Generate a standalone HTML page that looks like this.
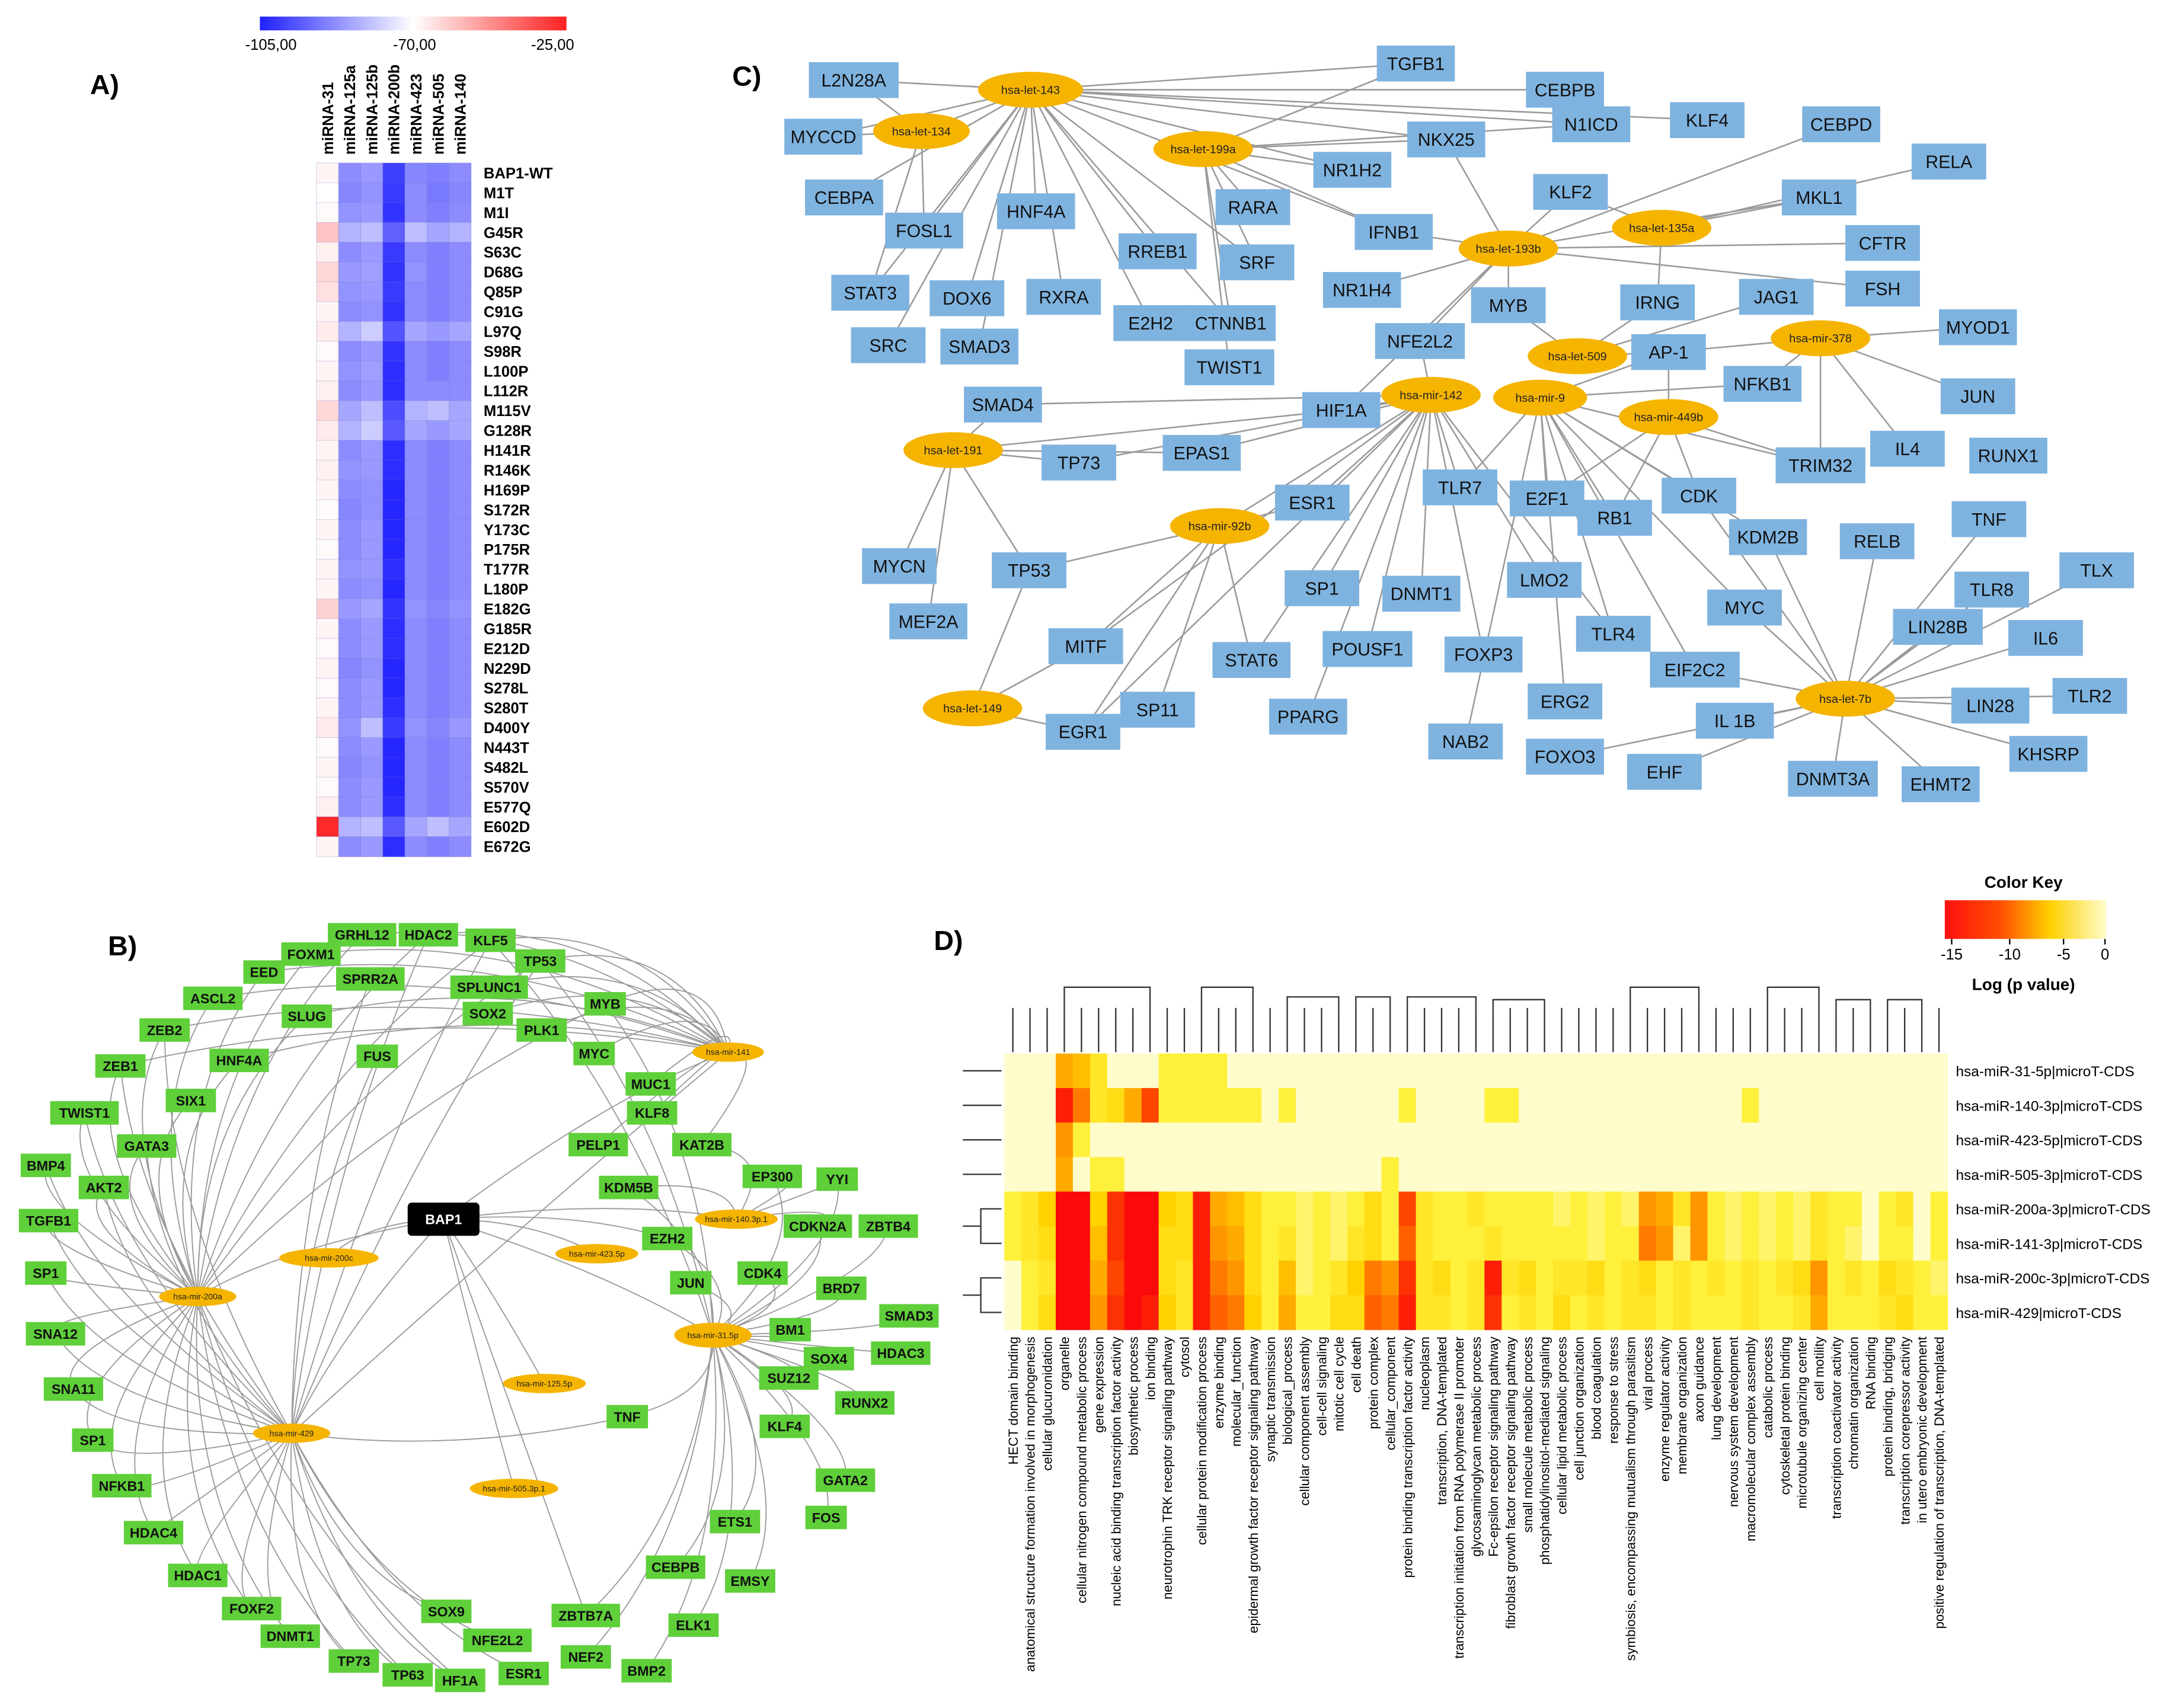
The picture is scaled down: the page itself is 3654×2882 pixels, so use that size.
<!DOCTYPE html>
<html><head><meta charset="utf-8">
<style>
html,body{margin:0;padding:0;background:#fff;}
svg{display:block;font-family:"Liberation Sans",Arial,sans-serif;}
</style></head>
<body>
<svg id="fig" width="3654" height="2882" viewBox="0 0 1568 1237" xmlns="http://www.w3.org/2000/svg">
<defs>
<linearGradient id="gA" x1="0" x2="1" y1="0" y2="0">
<stop offset="0" stop-color="#2020ff"/><stop offset="0.5" stop-color="#ffffff"/><stop offset="1" stop-color="#ff2020"/>
</linearGradient>
<linearGradient id="gD" x1="0" x2="1" y1="0" y2="0">
<stop offset="0" stop-color="#ff1010"/><stop offset="0.35" stop-color="#ff5000"/><stop offset="0.65" stop-color="#ffd000"/><stop offset="1" stop-color="#fffccc"/>
</linearGradient>
</defs>
<g id="pA"></g>
<g id="pB"></g>
<g id="pC"></g>
<g id="pD"></g>
</svg>
<script>
// ---------- Panel A data ----------
const aCols = ["miRNA-31","miRNA-125a","miRNA-125b","miRNA-200b","miRNA-423","miRNA-505","miRNA-140"];
const aRows = ["BAP1-WT","M1T","M1I","G45R","S63C","D68G","Q85P","C91G","L97Q","S98R","L100P","L112R","M115V","G128R","H141R","R146K","H169P","S172R","Y173C","P175R","T177R","L180P","E182G","G185R","E212D","N229D","S278L","S280T","D400Y","N443T","S482L","S570V","E577Q","E602D","E672G"];
const aCol0 = [-68,-70,-69,-58,-67,-62,-64,-68,-66,-69,-68,-67,-62,-66,-68,-67,-68,-69,-68,-69,-68,-68,-61,-68,-69,-68,-69,-68,-66,-69,-68,-69,-67,-27,-68];
const aCol1 = [-88,-89,-87,-82,-88,-86,-87,-88,-82,-88,-87,-88,-84,-82,-88,-87,-88,-89,-88,-88,-87,-88,-86,-88,-88,-89,-88,-88,-87,-88,-89,-88,-88,-82,-88];
const aCol2 = [-86,-87,-86,-80,-86,-85,-86,-87,-78,-86,-85,-86,-80,-78,-86,-86,-87,-87,-86,-86,-86,-87,-84,-86,-86,-87,-86,-86,-80,-86,-87,-86,-86,-80,-86];
const aCol3 = [-100,-101,-102,-95,-101,-102,-101,-102,-97,-102,-103,-103,-98,-96,-103,-103,-104,-104,-104,-104,-103,-104,-102,-103,-103,-104,-104,-103,-101,-104,-104,-104,-103,-96,-103];
const aCol4 = [-89,-88,-88,-80,-88,-87,-88,-88,-84,-88,-88,-88,-82,-84,-88,-88,-88,-88,-88,-88,-88,-88,-87,-88,-88,-88,-88,-88,-87,-88,-88,-88,-88,-84,-88];
const aCol5 = [-90,-91,-90,-84,-90,-90,-90,-90,-86,-90,-90,-88,-80,-86,-90,-90,-90,-90,-90,-90,-90,-90,-89,-90,-90,-90,-90,-90,-89,-90,-90,-90,-90,-80,-90];
const aCol6 = [-88,-89,-88,-82,-88,-88,-88,-88,-84,-88,-88,-88,-84,-84,-88,-88,-88,-88,-88,-88,-88,-88,-87,-88,-88,-88,-88,-88,-86,-88,-88,-88,-88,-84,-88];
const aTicks = ["-105,00","-70,00","-25,00"];

// ---------- Panel D data ----------
const dRows = ["hsa-miR-31-5p|microT-CDS","hsa-miR-140-3p|microT-CDS","hsa-miR-423-5p|microT-CDS","hsa-miR-505-3p|microT-CDS","hsa-miR-200a-3p|microT-CDS","hsa-miR-141-3p|microT-CDS","hsa-miR-200c-3p|microT-CDS","hsa-miR-429|microT-CDS"];
const dCols = ["HECT domain binding","anatomical structure formation involved in morphogenesis","cellular glucuronidation","organelle","cellular nitrogen compound metabolic process","gene expression","nucleic acid binding transcription factor activity","biosynthetic process","ion binding","neurotrophin TRK receptor signaling pathway","cytosol","cellular protein modification process","enzyme binding","molecular_function","epidermal growth factor receptor signaling pathway","synaptic transmission","biological_process","cellular component assembly","cell-cell signaling","mitotic cell cycle","cell death","protein complex","cellular_component","protein binding transcription factor activity","nucleoplasm","transcription, DNA-templated","transcription initiation from RNA polymerase II promoter","glycosaminoglycan metabolic process","Fc-epsilon receptor signaling pathway","fibroblast growth factor receptor signaling pathway","small molecule metabolic process","phosphatidylinositol-mediated signaling","cellular lipid metabolic process","cell junction organization","blood coagulation","response to stress","symbiosis, encompassing mutualism through parasitism","viral process","enzyme regulator activity","membrane organization","axon guidance","lung development","nervous system development","macromolecular complex assembly","catabolic process","cytoskeletal protein binding","microtubule organizing center","cell motility","transcription coactivator activity","chromatin organization","RNA binding","protein binding, bridging","transcription corepressor activity","in utero embryonic development","positive regulation of transcription, DNA-templated"];
const dR0 = [0,0,0,-8,-7,-4,0,0,0,-3,-3,-3,-3,0,0,0,0,0,0,0,0,0,0,0,0,0,0,0,0,0,0,0,0,0,0,0,0,0,0,0,0,0,0,0,0,0,0,0,0,0,0,0,0,0,0];
const dR1 = [0,0,0,-14,-10,-4,-5,-8,-12,-3,-3,-3,-3,-3,-3,0,-3,0,0,0,0,0,0,-3,0,0,0,0,-3,-3,0,0,0,0,0,0,0,0,0,0,0,0,0,-3,0,0,0,0,0,0,0,0,0,0,0];
const dR2 = [0,0,0,-9,-3,0,0,0,0,0,0,0,0,0,0,0,0,0,0,0,0,0,0,0,0,0,0,0,0,0,0,0,0,0,0,0,0,0,0,0,0,0,0,0,0,0,0,0,0,0,0,0,0,0,0];
const dR3 = [0,0,0,-8,0,-3,-3,0,0,0,0,0,0,0,0,0,0,0,0,0,0,0,-3,0,0,0,0,0,0,0,0,0,0,0,0,0,0,0,0,0,0,0,0,0,0,0,0,0,0,0,0,0,0,0,0];
const dR4 = [-3,-4,-6,-15,-15,-6,-13,-15,-15,-6,-5,-14,-8,-7,-5,-3,-3,-2,-3,-2,-3,-5,-3,-12,-4,-3,-3,-4,-3,-3,-3,-3,-2,-3,-2,-3,-2,-9,-8,-4,-9,-3,-2,-3,-2,-3,-2,-4,-3,-3,0,-3,-4,0,-3];
const dR5 = [-3,-4,-5,-15,-15,-7,-13,-15,-15,-5,-5,-14,-9,-8,-5,-3,-4,-2,-3,-2,-4,-5,-3,-11,-4,-3,-3,-3,-4,-3,-3,-3,-3,-3,-2,-3,-3,-10,-9,-2,-9,-3,-2,-3,-2,-3,-2,-4,-3,-2,0,-3,-3,0,-3];
const dR6 = [0,-3,-4,-15,-15,-8,-12,-15,-15,-5,-4,-14,-10,-9,-5,-3,-7,-2,-3,-4,-6,-10,-9,-13,-4,-5,-3,-4,-14,-4,-5,-3,-4,-4,-5,-3,-4,-5,-3,-4,-3,-4,-3,-4,-3,-4,-5,-9,-3,-4,-3,-5,-4,-3,-2];
const dR7 = [0,-3,-5,-15,-15,-9,-13,-15,-14,-6,-4,-14,-11,-10,-6,-3,-8,-3,-3,-5,-5,-11,-10,-14,-4,-4,-3,-4,-13,-3,-4,-3,-5,-3,-4,-3,-4,-4,-3,-4,-3,-3,-3,-4,-3,-3,-4,-8,-3,-3,-3,-4,-5,-3,-3];
const dKeyTicks = ["-15","-10","-5","0"];

const NS="http://www.w3.org/2000/svg";
function mk(tag, parent, attrs){const e=document.createElementNS(NS,tag);for(const k in attrs)e.setAttribute(k,attrs[k]);parent.appendChild(e);return e;}
function txt(parent,x,y,s,size,opts){const t=mk('text',parent,Object.assign({x:x,y:y,'font-size':size},opts||{}));t.textContent=s;return t;}

// ---------- Panel A ----------
(function(){
const g=document.getElementById('pA');
const lab=txt(g,65,68,"A)",20,{'font-weight':'bold'});


const cb=mk('rect',g,{x:188,y:12,width:222,height:10,fill:'url(#gA)'});


const tx=[196,300,400];
aTicks.forEach((s,i)=>{const t=txt(g,tx[i],36,s,11,{'text-anchor':'middle'});

});
const cols=[aCol0,aCol1,aCol2,aCol3,aCol4,aCol5,aCol6];
const x0=229,cw=16,y0=118,rh=14.35;
function col(v){const t=Math.max(-105,Math.min(-25,v));
 if(t<=-70){const f=(t+105)/35;const c=Math.round(32+223*f);return `rgb(${c},${c},255)`;}
 const f=(t+70)/45;const c=Math.round(255-223*f);return `rgb(255,${c},${c})`;}
cols.forEach((arr,ci)=>{
 const h=txt(g,x0+ci*cw+cw/2+4,112,aCols[ci],11,{'font-weight':'bold',transform:`rotate(-90 ${x0+ci*cw+cw/2+4} 112)`});
 
 
 arr.forEach((v,ri)=>{const r=mk('rect',g,{x:x0+ci*cw,y:y0+ri*rh,width:cw,height:rh+0.3,fill:col(v),stroke:'rgba(120,120,200,0.35)','stroke-width':0.4});
 
 });
});
aRows.forEach((s,ri)=>{const t=txt(g,350,y0+ri*rh+rh/2+4,s,11,{'font-weight':'bold'});
 
 });
})();

// ---------- Network helper ----------
function network(g,nodes,hubs,edges,style){
 const pos={};
 nodes.forEach(n=>pos[n[0]]=[n[1],n[2]]);
 hubs.forEach(n=>pos[n[0]]=[n[1],n[2]]);
 const eg=mk('g',g,{});
 
 
 edges.forEach(([a,list])=>{list.forEach(b=>{if(!pos[a]||!pos[b])return;
  const [x1,y1]=pos[a],[x2,y2]=pos[b];
  let d;
  if(style.curve){const mx=(x1+x2)/2,my=(y1+y2)/2;const dx=mx-style.cx,dy=my-style.cy;
   d=`M${x1},${y1} Q${mx+dx*0.25},${my+dy*0.25} ${x2},${y2}`;}
  else d=`M${x1},${y1} L${x2},${y2}`;
  const p=mk('path',eg,{d:d,fill:'none',stroke:'#9a9a9a','stroke-width':style.sw});
  
  });});
 nodes.forEach(n=>{const [id,x,y,lbl]=n;const s=lbl||id.replace(/_\d$/,'');
  const w=Math.max(style.minw,s.length*style.cw+style.pad);
  const r=mk('rect',g,{x:x-w/2,y:y-style.h/2,width:w,height:style.h,fill:style.fill});
  
  
  const t=txt(g,x,y+style.fs*0.36,s,style.fs,{'text-anchor':'middle','font-weight':style.bold?'bold':'normal',fill:'#111'});
  
  });
 hubs.forEach(n=>{const [id,x,y,rx,ry]=n;
  const e=mk('ellipse',g,{cx:x,cy:y,rx:rx,ry:ry,fill:style.hub});
  
  
  const t=txt(g,x,y+style.hfs*0.35,id,style.hfs,{'text-anchor':'middle',fill:'#222'});
  
  });
}

// ---------- Panel C ----------
(function(){
const g=document.getElementById('pC');
const lab=txt(g,530,62,"C)",20,{'font-weight':'bold'});


const N=[["L2N28A",618,58],["MYCCD",596,99],["CEBPA",611,143],["FOSL1",669,167],["STAT3",630,212],["DOX6",700,216],["SRC",643,250],["SMAD3",709,251],["HNF4A",750,153],["RXRA",770,215],["RREB1",838,182],["E2H2",833,234],["SRF",910,190],["RARA",907,150],["CTNNB1",891,234],["TWIST1",890,266],["TGFB1",1025,46],["CEBPB",1133,65],["N1ICD",1152,90],["KLF4",1236,87],["NKX25",1047,101],["NR1H2",979,123],["IFNB1",1009,168],["NR1H4",986,210],["KLF2",1137,139],["CEBPD",1333,90],["RELA",1411,117],["MKL1",1317,143],["CFTR",1363,176],["FSH",1363,209],["MYOD1",1432,237],["JAG1",1286,215],["IRNG",1200,219],["MYB",1092,221],["NFE2L2",1028,247],["AP-1",1208,255],["NFKB1",1276,278],["SMAD4",726,293],["HIF1A",971,297],["TP73",781,335],["EPAS1",870,328],["ESR1",950,364],["TLR7",1057,353],["E2F1",1120,361],["JUN",1432,287],["IL4",1381,325],["RUNX1",1454,330],["TRIM32",1318,337],["CDK",1230,359],["RB1",1169,375],["KDM2B",1280,389],["RELB",1359,392],["TNF",1440,376],["TLX",1518,413],["TLR8",1442,427],["MYCN",651,410],["TP53",745,413],["MEF2A",672,450],["SP1",957,426],["DNMT1",1029,430],["LMO2",1118,420],["MYC",1263,440],["LIN28B",1403,454],["IL6",1481,462],["TLR2",1513,504],["LIN28",1441,511],["KHSRP",1483,546],["EHMT2",1405,568],["DNMT3A",1327,564],["MITF",786,468],["STAT6",906,478],["POUSF1",990,470],["FOXP3",1074,474],["TLR4",1168,459],["EIF2C2",1227,485],["ERG2",1133,508],["NAB2",1061,537],["FOXO3",1133,548],["EHF",1205,559],["IL 1B",1256,522],["PPARG",947,519],["SP11",838,514],["EGR1",784,530]];
const H=[["hsa-let-143",746,65,38,13],["hsa-let-134",667,95,35,13],["hsa-let-199a",871,108,36,13],["hsa-let-193b",1092,180,36,13],["hsa-let-135a",1203,165,36,13],["hsa-let-509",1142,258,36,13],["hsa-mir-378",1318,245,36,13],["hsa-mir-142",1036,286,36,13],["hsa-mir-9",1115,288,34,13],["hsa-mir-449b",1208,302,36,13],["hsa-let-191",690,326,36,13],["hsa-mir-92b",883,381,36,13],["hsa-let-149",704,513,36,13],["hsa-let-7b",1336,506,36,13]];
const E=[["hsa-let-143",["L2N28A","MYCCD","CEBPA","FOSL1","STAT3","SRC","HNF4A","RXRA","RREB1","E2H2","CTNNB1","TGFB1","CEBPB","N1ICD","KLF4","NKX25","NR1H2","SRF","IFNB1","hsa-let-134","SMAD3","DOX6"]],
["hsa-let-134",["MYCCD","FOSL1","STAT3","L2N28A"]],
["hsa-let-199a",["RARA","SRF","NR1H2","NKX25","CTNNB1","IFNB1","TWIST1","TGFB1","N1ICD"]],
["hsa-let-193b",["NKX25","KLF2","NR1H4","MYB","NFE2L2","IFNB1","CFTR","FSH","CEBPD","MKL1","HIF1A"]],
["hsa-let-135a",["KLF2","MKL1","RELA","IRNG"]],
["hsa-let-509",["MYB","AP-1","IRNG","JAG1"]],
["hsa-mir-378",["NFKB1","JUN","IL4","MYOD1","AP-1","TRIM32"]],
["hsa-mir-142",["HIF1A","ESR1","TLR7","SP1","DNMT1","POUSF1","FOXP3","LMO2","STAT6","TP73","EPAS1","MITF","TLR4","hsa-mir-92b","EGR1","NFE2L2","SMAD4","PPARG"]],
["hsa-mir-9",["E2F1","RB1","CDK","TLR7","NFKB1","TRIM32","AP-1","EIF2C2","NAB2","ERG2","TLR4","KDM2B","MYC"]],
["hsa-mir-449b",["CDK","RB1","E2F1","TRIM32","AP-1"]],
["hsa-let-191",["TP73","TP53","HIF1A","SMAD4","MYCN","EPAS1","MEF2A"]],
["hsa-mir-92b",["TP53","ESR1","MITF","EGR1","STAT6","SP11"]],
["hsa-let-149",["EGR1","TP53","MITF"]],
["hsa-let-7b",["LIN28B","IL6","TLR2","LIN28","KHSRP","EHMT2","DNMT3A","IL 1B","EIF2C2","MYC","KDM2B","RELB","TLR8","TNF","TLX","CDK","EHF","FOXO3"]]];
network(g,N,H,E,{fill:'#7fb3df',hub:'#f5b400',h:26,minw:54,cw:8.5,pad:14,fs:13,bold:false,hfs:8.5,sw:1.1,curve:false});
})();

// ---------- Panel B ----------
(function(){
const g=document.getElementById('pB');
const lab=txt(g,78,692,"B)",20,{'font-weight':'bold'});


const N=[["GRHL12",262,677],["HDAC2",310,677],["KLF5",355,681],["TP53",391,696],["FOXM1",225,691],["EED",191,704],["SPRR2A",268,709],["SPLUNC1",354,715],["MYB",438,727],["ASCL2",154,723],["ZEB2",119,746],["SLUG",222,736],["SOX2",353,734],["PLK1",392,746],["HNF4A",173,768],["FUS",273,765],["MYC",430,763],["ZEB1",87,772],["SIX1",138,797],["MUC1",471,785],["TWIST1",61,806],["GATA3",106,830],["KLF8",472,806],["PELP1",433,829],["KAT2B",508,829],["BMP4",33,844],["AKT2",75,860],["KDM5B",455,860],["EP300",559,852],["YYI",606,854],["TGFB1",35,884],["CDKN2A",592,888],["ZBTB4",643,888],["EZH2",483,897],["SP1",33,922],["JUN",500,929],["CDK4",552,922],["BRD7",609,933],["SMAD3",658,953],["SNA12",40,966],["BM1",572,963],["SOX4",600,984],["HDAC3",652,980],["SNA11",53,1006],["SUZ12",571,998],["RUNX2",626,1016],["SP1_2",67,1043],["TNF",454,1026],["KLF4",568,1033],["GATA2",612,1072],["NFKB1",88,1076],["FOS",598,1099],["HDAC4",111,1110],["ETS1",532,1102],["CEBPB",489,1135],["EMSY",543,1145],["HDAC1",143,1141],["FOXF2",182,1165],["ELK1",502,1177],["DNMT1",210,1185],["SOX9",323,1167],["ZBTB7A",424,1170],["NFE2L2",360,1188],["NEF2",424,1200],["TP73",256,1203],["TP63",295,1213],["HF1A",333,1217],["ESR1",379,1212],["BMP2",468,1210]];
const H=[["hsa-mir-141",527,762,26,7],["hsa-mir-200c",238,911,36,7],["hsa-mir-140.3p.1",533,883,30,7],["hsa-mir-423.5p",432,908,30,7],["hsa-mir-200a",143,939,28,7],["hsa-mir-31.5p",516,967,28,9],["hsa-mir-125.5p",394,1002,30,7],["hsa-mir-429",211,1038,28,7],["hsa-mir-505.3p.1",372,1078,32,7]];
const E=[["hsa-mir-200a",["TWIST1","ZEB1","ZEB2","GATA3","BMP4","AKT2","TGFB1","SP1","SNA12","SNA11","SP1_2","NFKB1","HDAC4","HDAC1","FOXF2","DNMT1","SIX1","HNF4A","ASCL2","EED","FOXM1","GRHL12","SLUG","TP73","TP63","HF1A","MYB","KLF5","HDAC2","TP53"]],
["hsa-mir-429",["TWIST1","ZEB1","ZEB2","GATA3","BMP4","AKT2","TGFB1","SP1","SNA12","SNA11","SP1_2","NFKB1","HDAC4","HDAC1","FOXF2","DNMT1","TP73","TP63","HF1A","SOX9","NFE2L2","ESR1","TNF","SPRR2A","FUS","HDAC2","KLF5","TP53","hsa-mir-141"]],
["hsa-mir-141",["TP53","MYB","SOX2","KLF5","HDAC2","SPLUNC1","PLK1","MYC","MUC1","KLF8","PELP1","KAT2B","GRHL12","FOXM1","EED","ASCL2","ZEB2","ZEB1","HNF4A","SLUG"]],
["hsa-mir-31.5p",["EZH2","JUN","CDK4","BM1","SOX4","SUZ12","KLF4","GATA2","FOS","ETS1","CEBPB","EMSY","ELK1","BMP2","NEF2","ZBTB7A","BRD7","SMAD3","HDAC3","RUNX2","CDKN2A","ZBTB4","EP300","YYI","KDM5B","TNF","MYB","TP53","KLF5"]],
["hsa-mir-140.3p.1",["EP300","CDKN2A","KAT2B","KDM5B","YYI"]],
["BAP1",["hsa-mir-200c","hsa-mir-423.5p","hsa-mir-125.5p","hsa-mir-505.3p.1","hsa-mir-31.5p","hsa-mir-140.3p.1","hsa-mir-429","hsa-mir-200a","hsa-mir-141","EZH2","ZBTB7A"]]];
network(g,[["BAP1",321,883]].concat(N),H,E,{fill:'#5fcf3a',hub:'#f5b400',h:17,minw:30,cw:6.6,pad:10,fs:10,bold:true,hfs:6,sw:0.8,curve:true,cx:345,cy:945});
const rects=g.querySelectorAll('rect');const bt=g.querySelectorAll('text');
rects[0].setAttribute('fill','#000');rects[0].setAttribute('width',52);rects[0].setAttribute('x',295);rects[0].setAttribute('height',24);rects[0].setAttribute('y',871);rects[0].setAttribute('rx',3);
bt[1].setAttribute('fill','#fff');
})();

// ---------- Panel D ----------
(function(){
const g=document.getElementById('pD');
const lab=txt(g,676,688,"D)",20,{'font-weight':'bold'});


const ck=txt(g,1465,643,"Color Key",12,{'font-weight':'bold','text-anchor':'middle'});


const kb=mk('rect',g,{x:1408,y:652,width:117,height:28,fill:'url(#gD)'});


const kx=[1413,1455,1494,1524];
dKeyTicks.forEach((s,i)=>{mk('line',g,{x1:kx[i],x2:kx[i],y1:680,y2:684,stroke:'#000'});
 const t=txt(g,kx[i],695,s,11,{'text-anchor':'middle'});
 
 });
const kl=txt(g,1465,717,"Log (p value)",12,{'font-weight':'bold','text-anchor':'middle'});


const rows=[dR0,dR1,dR2,dR3,dR4,dR5,dR6,dR7];
const x0=727,y0=763,cw=683/dCols.length,rh=25;
function col(v){const f=Math.max(0,Math.min(1,-v/15));
 const stops=[[0,[255,252,204]],[0.2,[255,240,60]],[0.4,[255,210,0]],[0.6,[255,150,0]],[0.8,[255,70,0]],[1,[250,10,10]]];
 for(let i=1;i<stops.length;i++){if(f<=stops[i][0]){const a=stops[i-1],b=stops[i];const t=(f-a[0])/(b[0]-a[0]);
  const c=a[1].map((q,k)=>Math.round(q+(b[1][k]-q)*t));return `rgb(${c})`;}}
 return 'rgb(250,10,10)';}
rows.forEach((arr,ri)=>{arr.forEach((v,ci)=>{const r=mk('rect',g,{x:x0+ci*cw,y:y0+ri*rh,width:cw+0.3,height:rh+0.3,fill:col(v)});
 
 });
 const t=txt(g,1416,y0+ri*rh+rh/2+4,dRows[ri],10.5,{});
 
 });
dCols.forEach((s,ci)=>{const x=x0+ci*cw+cw/2+3.5;
 const t=txt(g,x,968,s,9.5,{'text-anchor':'end',transform:`rotate(-90 ${x} 968)`});
 
 });
const dg=mk('g',g,{fill:'none',stroke:'#333','stroke-width':1});


const cx=i=>x0+i*cw+cw/2;
const groups=[[3,8,715],[11,14,715],[16,19,722],[20,22,722],[23,27,722],[28,31,724],[36,40,715],[44,47,715],[48,50,724],[51,53,724]];
for(let i=0;i<dCols.length;i++){mk('path',dg,{d:`M${cx(i)},762 L${cx(i)},730`});}
groups.forEach(([a,b,y])=>{mk('path',dg,{d:`M${cx(a)},730 L${cx(a)},${y} L${cx(b)},${y} L${cx(b)},730`});});
const rg=mk('g',g,{fill:'none',stroke:'#333','stroke-width':1});


const ry=i=>y0+i*rh+rh/2;
[0,1,2,3].forEach(i=>mk('path',rg,{d:`M697,${ry(i)} L725,${ry(i)}`}));
mk('path',rg,{d:`M725,${ry(4)} L710,${ry(4)} L710,${ry(5)} L725,${ry(5)} M710,${(ry(4)+ry(5))/2} L697,${(ry(4)+ry(5))/2}`});
mk('path',rg,{d:`M725,${ry(6)} L710,${ry(6)} L710,${ry(7)} L725,${ry(7)} M710,${(ry(6)+ry(7))/2} L697,${(ry(6)+ry(7))/2}`});
})();
</script>
</body></html>
